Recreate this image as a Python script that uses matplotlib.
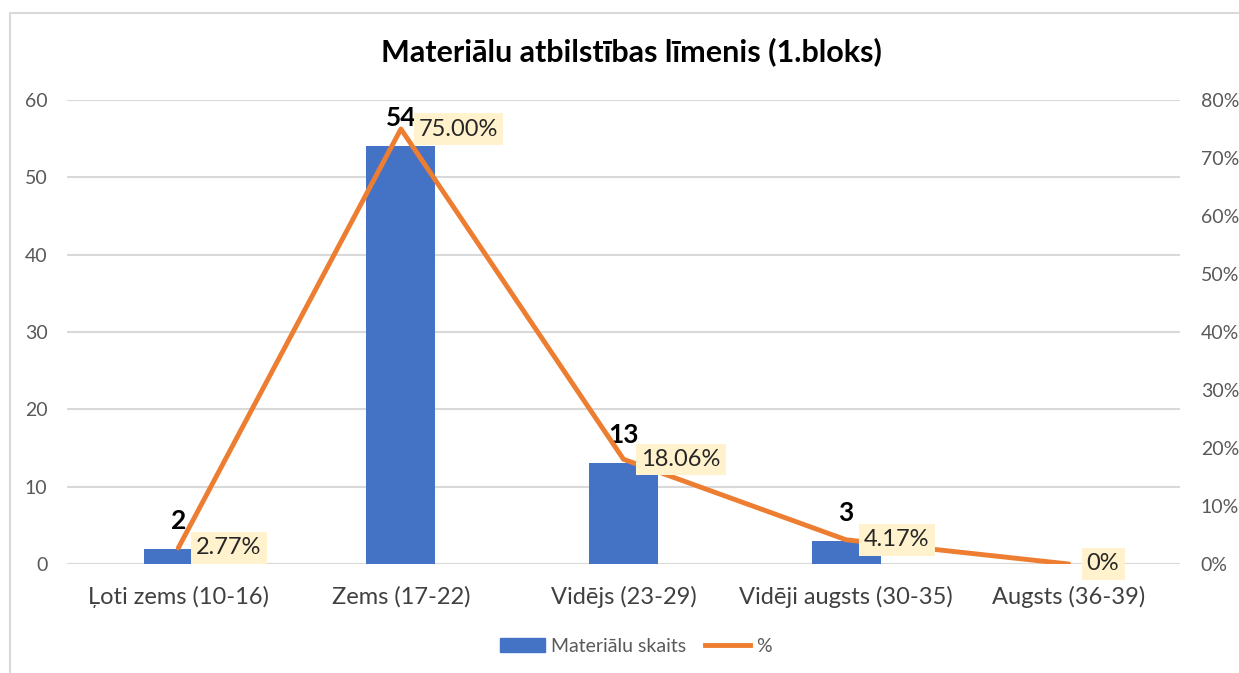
import matplotlib
matplotlib.use('Agg')
import matplotlib.pyplot as plt
import matplotlib.patches as mpatches
from matplotlib.lines import Line2D
from matplotlib.ticker import FuncFormatter

plt.rcParams['font.family'] = ['Lato', 'DejaVu Sans']

# dati
categories = ['Ļoti zems (10-16)', 'Zems (17-22)', 'Vidējs (23-29)',
              'Vidēji augsts (30-35)', 'Augsts (36-39)']
counts = [2, 54, 13, 3, 0]
percents = [2.77, 75.00, 18.06, 4.17, 0]
pct_labels = ['2.77%', '75.00%', '18.06%', '4.17%', '0%']
title = 'Materiālu atbilstības līmenis (1.bloks)'

BLUE = '#4472C4'
ORANGE = '#ED7D31'
GRID = '#D9D9D9'
TXT = '#595959'

fig = plt.figure(figsize=(12.39, 6.73), dpi=100)
# rāmis ap diagrammu
fig.patches.append(mpatches.Rectangle((10 / 1239, -0.01), 1.0, 1 - 13 / 673 + 0.01,
                                      transform=fig.transFigure, fill=False,
                                      ec='#D9D9D9', lw=1.5))

ax = fig.add_axes([67 / 1239, 1 - 564 / 673, (1180 - 67) / 1239, (564 - 100) / 673])
ax2 = ax.twinx()

x = list(range(len(categories)))
bars = ax.bar(x, counts, width=0.31, color=BLUE, zorder=2)
ax.set_xlim(-0.5, len(categories) - 0.5)
ax.set_ylim(0, 60)
ax.set_yticks(range(0, 61, 10))
ax.grid(axis='y', color=GRID, lw=1.5, zorder=0)
ax.set_axisbelow(True)
ax.set_xticks(x)
ax.set_xticklabels(categories, fontsize=17, color='#404040')
ax.tick_params(axis='x', length=0, pad=16)
ax.tick_params(axis='y', length=0, labelsize=14, labelcolor=TXT, pad=14)
for s in ax.spines.values():
    s.set_visible(False)

ax2.plot(x, percents, color=ORANGE, lw=3.5, solid_capstyle='round', zorder=3)
ax2.set_ylim(0, 80)
ax2.set_yticks(range(0, 81, 10))
ax2.yaxis.set_major_formatter(FuncFormatter(lambda v, p: f'{v:.0f}%'))
ax2.tick_params(axis='y', length=0, labelsize=14, labelcolor=TXT, pad=15)
for s in ax2.spines.values():
    s.set_visible(False)

# skaita etiķetes virs stabiņiem
for xi, c in zip(x, counts):
    if c == 0:
        continue
    ax.annotate(str(c), (xi, c), xytext=(0, 28), textcoords='offset pixels',
                ha='center', va='center', fontsize=19, fontweight='bold',
                color='black', zorder=5)

# procentu etiķetes
for xi, p, lab in zip(x, percents, pct_labels):
    ax2.annotate(lab, (xi, p), xytext=(18, 0), textcoords='offset pixels',
                 ha='left', va='center', fontsize=17, color='#262626', zorder=6,
                 bbox=dict(boxstyle='square,pad=0.22', fc='#FFF2CC', ec='none'))

fig.suptitle(title, x=0.51, y=1 - 52 / 673, va='center', fontsize=22,
             fontweight='bold', color='black')

handles = [mpatches.Patch(color=BLUE, label='Materiālu skaits'),
           Line2D([0], [0], color=ORANGE, lw=3.5, label='%')]
fig.legend(handles=handles, loc='center', bbox_to_anchor=(0.513, 1 - 646 / 673),
           ncol=2, frameon=False, fontsize=14, labelcolor=TXT,
           handlelength=2.3, handletextpad=0.3, columnspacing=1.0)

fig.savefig('out.png', dpi=100)
